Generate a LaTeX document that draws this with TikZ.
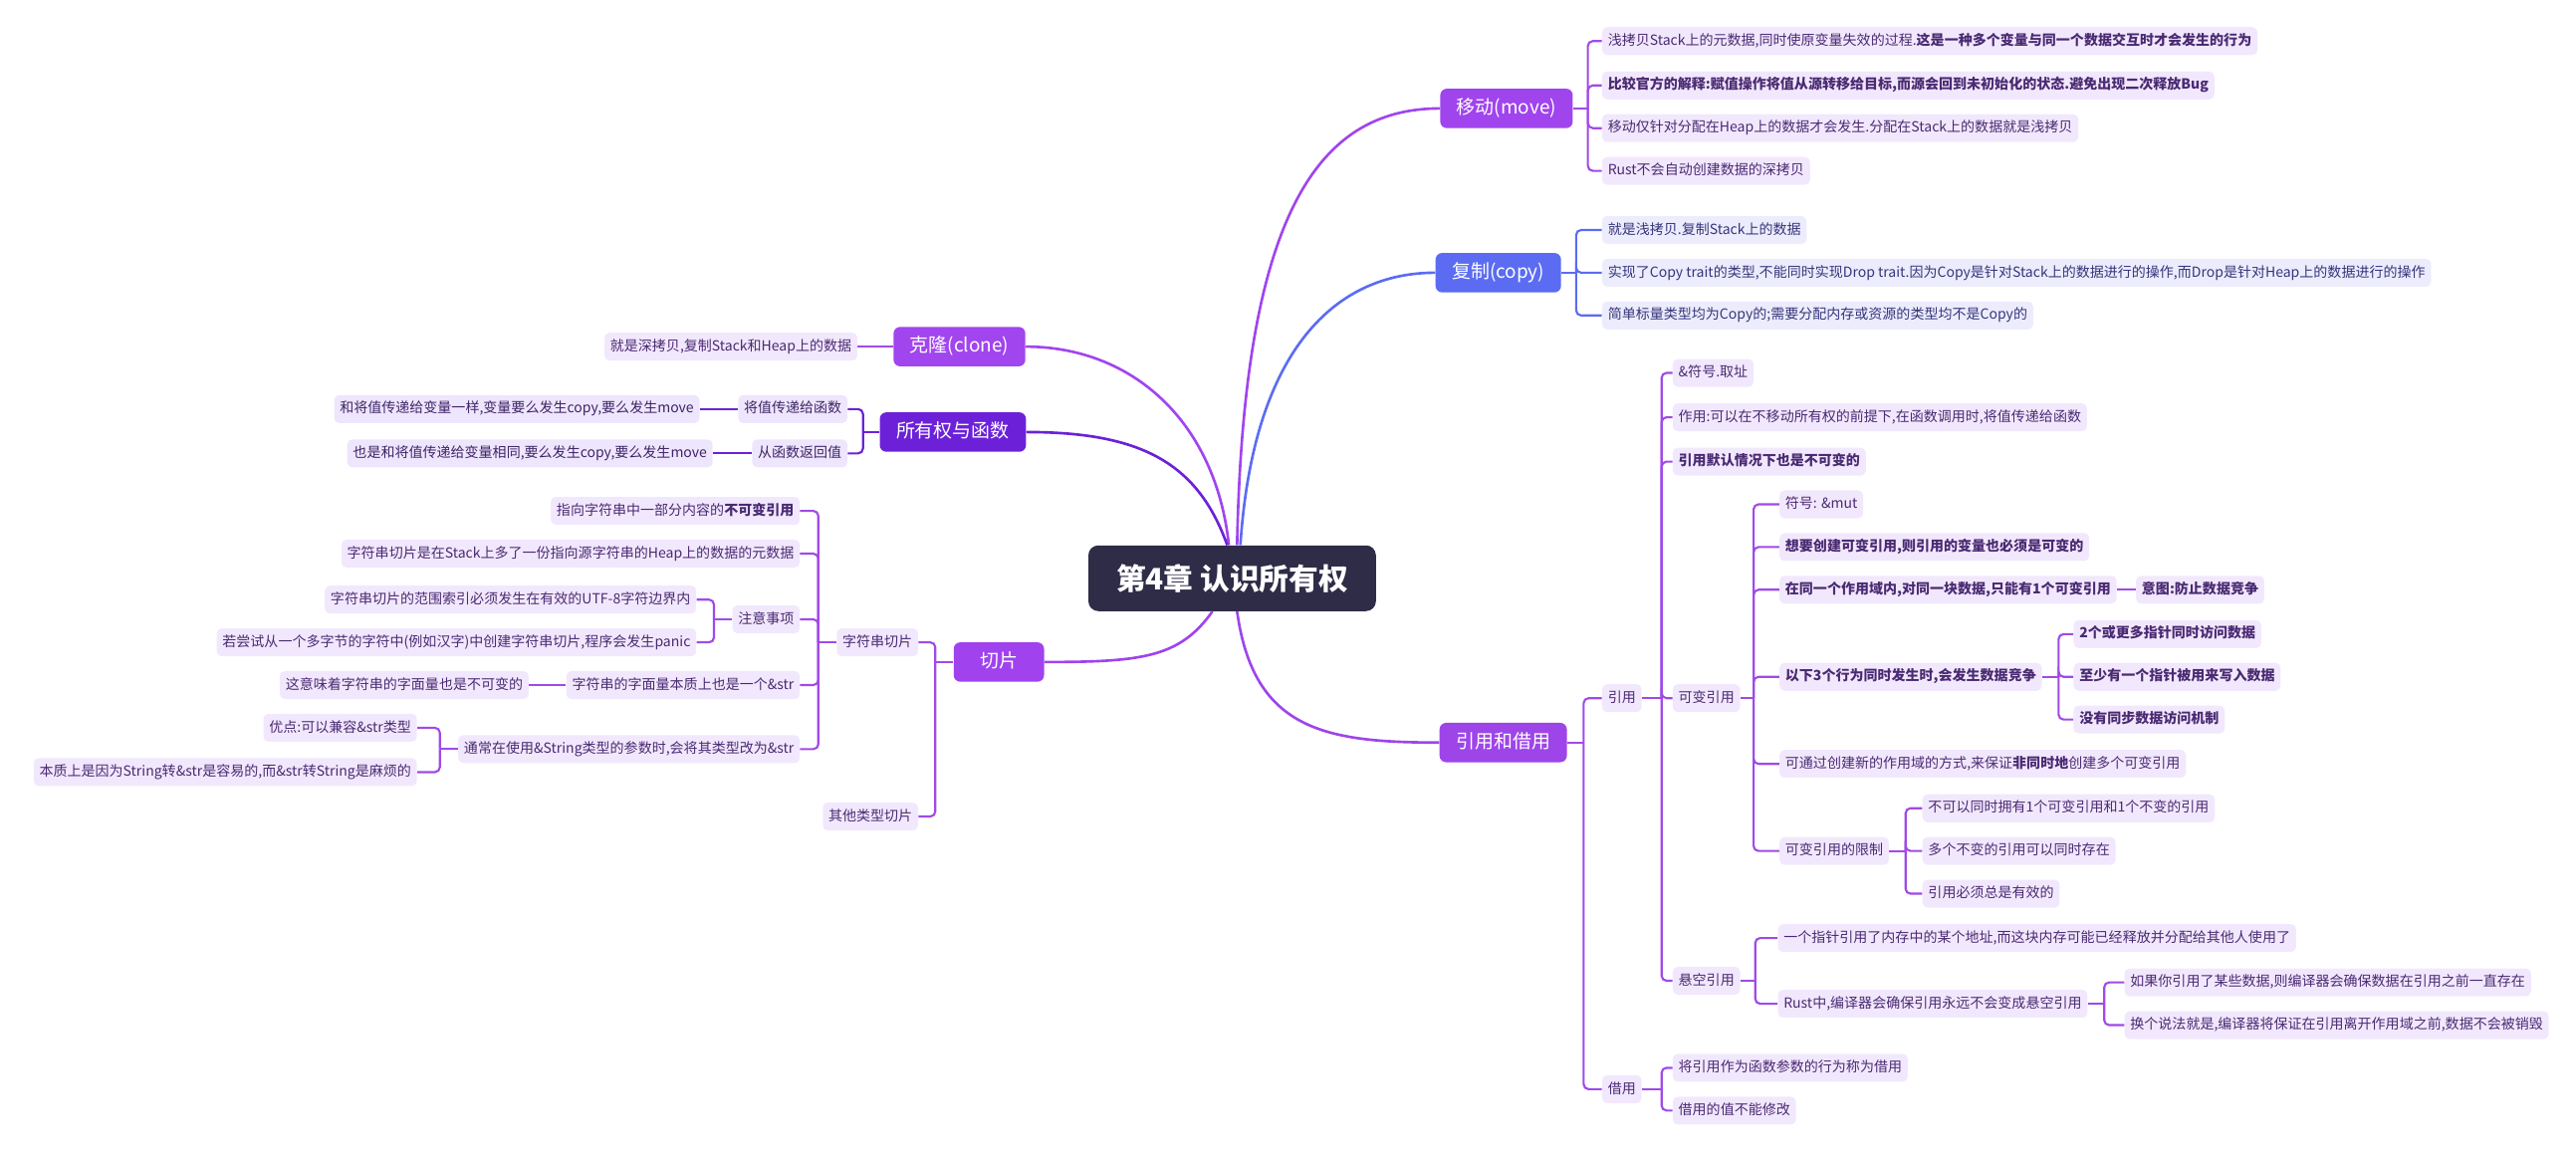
\documentclass[tikz,border=0pt]{standalone}
\usepackage{fontspec}
\setmainfont{Noto Sans CJK SC}
\usetikzlibrary{calc}
\definecolor{rootc}{HTML}{2F2C47}
\definecolor{mvc}{HTML}{A044EE}
\definecolor{cpc}{HTML}{5B6CF2}
\definecolor{rbc}{HTML}{9E45EA}
\definecolor{clc}{HTML}{A145EF}
\definecolor{owc}{HTML}{6C21D8}
\definecolor{slc}{HTML}{A043EE}
\definecolor{leaffill}{HTML}{F2E8FD}
\definecolor{leaftext}{HTML}{4A2A72}
\definecolor{cpfill}{HTML}{ECECFD}
\definecolor{cptext}{HTML}{36357A}
\definecolor{owfill}{HTML}{EEE6FC}
\definecolor{owtext}{HTML}{3E2366}
\definecolor{linkc}{HTML}{A04AE8}
\newcommand\fanR[4][]{%
  \draw[link,#1] (#2.east) -- ++(#3,0);
  \foreach \cn in {#4} {\draw[link,rounded corners=3pt,#1] ([xshift=#3]#2.east) |- (\cn.west);}%
}
\newcommand\fanL[4][]{%
  \draw[link,#1] (#2.west) -- ++(-#3,0);
  \foreach \cn in {#4} {\draw[link,rounded corners=3pt,#1] ([xshift=-#3]#2.west) |- (\cn.east);}%
}
\begin{document}
\begin{tikzpicture}[x=1pt,y=-1pt,
  leaf/.style={fill=leaffill, text=leaftext, rounded corners=3pt, inner xsep=3.5pt, inner ysep=0pt,
    minimum height=17pt, text height=6.6pt, text depth=1.6pt, font=\fontsize{8.5}{10}\selectfont},
  lr/.style={leaf, anchor=west},
  ll/.style={leaf, anchor=east},
  cpl/.style={lr, fill=cpfill, text=cptext},
  owl/.style={ll, fill=owfill, text=owtext},
  br/.style={rounded corners=4pt, text=white, minimum height=24pt, minimum width=55pt, inner xsep=10pt,
    inner ysep=0pt, text height=9pt, text depth=2.3pt, font=\fontsize{11.5}{13}\selectfont},
  rootnode/.style={fill=rootc, text=white, rounded corners=6pt, minimum width=175pt, minimum height=40pt,
    font=\fontsize{18}{20}\selectfont\bfseries},
  link/.style={line width=1.3pt, draw=linkc},
  curve/.style={line width=1.6pt}
]
\useasboundingbox (0,0) rectangle (1568,704);

% root
\node[rootnode] (root) at (750,352) {第4章 认识所有权};

% ---------- move ----------
\node[br, fill=mvc] (mv) at (917,66) {移动(move)};
\node[lr] (mv1) at (975,25) {浅拷贝Stack上的元数据,同时使原变量失效的过程.\textbf{这是一种多个变量与同一个数据交互时才会发生的行为}};
\node[lr] (mv2) at (975,52) {\textbf{比较官方的解释:赋值操作将值从源转移给目标,而源会回到未初始化的状态.避免出现二次释放Bug}};
\node[lr] (mv3) at (975,78) {移动仅针对分配在Heap上的数据才会发生.分配在Stack上的数据就是浅拷贝};
\node[lr] (mv4) at (975,104) {Rust不会自动创建数据的深拷贝};

% ---------- copy ----------
\node[br, fill=cpc] (cp) at (912,166) {复制(copy)};
\node[cpl] (cp1) at (975,140) {就是浅拷贝.复制Stack上的数据};
\node[cpl] (cp2) at (975,166) {实现了Copy trait的类型,不能同时实现Drop trait.因为Copy是针对Stack上的数据进行的操作,而Drop是针对Heap上的数据进行的操作};
\node[cpl] (cp3) at (975,192) {简单标量类型均为Copy的;需要分配内存或资源的类型均不是Copy的};

% ---------- reference & borrow ----------
\node[br, fill=rbc] (rb) at (915,452) {引用和借用};
\node[lr] (yy) at (975,425) {引用};
\node[lr] (jy) at (975,663) {借用};
\node[lr] (y1) at (1018,227) {\&符号.取址};
\node[lr] (y2) at (1018,254) {作用:可以在不移动所有权的前提下,在函数调用时,将值传递给函数};
\node[lr] (y3) at (1018,281) {\textbf{引用默认情况下也是不可变的}};
\node[lr] (kb) at (1018,425) {可变引用};
\node[lr] (xk) at (1018,597) {悬空引用};
\node[lr] (k1) at (1083,307) {符号: \&mut};
\node[lr] (k2) at (1083,333) {\textbf{想要创建可变引用,则引用的变量也必须是可变的}};
\node[lr] (k3) at (1083,359) {\textbf{在同一个作用域内,对同一块数据,只能有1个可变引用}};
\node[lr] (k3a) at (1300,359) {\textbf{意图:防止数据竞争}};
\node[lr] (k4) at (1083,412) {\textbf{以下3个行为同时发生时,会发生数据竞争}};
\node[lr] (k41) at (1262,386) {\textbf{2个或更多指针同时访问数据}};
\node[lr] (k42) at (1262,412) {\textbf{至少有一个指针被用来写入数据}};
\node[lr] (k43) at (1262,438) {\textbf{没有同步数据访问机制}};
\node[lr] (k5) at (1083,465) {可通过创建新的作用域的方式,来保证\textbf{非同时地}创建多个可变引用};
\node[lr] (k6) at (1083,518) {可变引用的限制};
\node[lr] (k61) at (1170,492) {不可以同时拥有1个可变引用和1个不变的引用};
\node[lr] (k62) at (1170,518) {多个不变的引用可以同时存在};
\node[lr] (k63) at (1170,544) {引用必须总是有效的};
\node[lr] (x1) at (1082,571) {一个指针引用了内存中的某个地址,而这块内存可能已经释放并分配给其他人使用了};
\node[lr] (x2) at (1082,611) {Rust中,编译器会确保引用永远不会变成悬空引用};
\node[lr] (x21) at (1293,598) {如果你引用了某些数据,则编译器会确保数据在引用之前一直存在};
\node[lr] (x22) at (1293,624) {换个说法就是,编译器将保证在引用离开作用域之前,数据不会被销毁};
\node[lr] (j1) at (1018,650) {将引用作为函数参数的行为称为借用};
\node[lr] (j2) at (1018,676) {借用的值不能修改};

% ---------- clone ----------
\node[br, fill=clc] (cl) at (584,211) {克隆(clone)};
\node[ll] (cl1) at (522,211) {就是深拷贝,复制Stack和Heap上的数据};

% ---------- ownership & functions ----------
\node[br, fill=owc] (ow) at (580,263) {所有权与函数};
\node[owl] (ow1) at (516,249) {将值传递给函数};
\node[owl] (ow1a) at (426,249) {和将值传递给变量一样,变量要么发生copy,要么发生move};
\node[owl] (ow2) at (516,276) {从函数返回值};
\node[owl] (ow2a) at (434,276) {也是和将值传递给变量相同,要么发生copy,要么发生move};

% ---------- slices ----------
\node[br, fill=slc] (sl) at (608,403) {切片};
\node[ll] (s1) at (559,391) {字符串切片};
\node[ll] (s2) at (559,497) {其他类型切片};
\node[ll] (a1) at (487,311) {指向字符串中一部分内容的\textbf{不可变引用}};
\node[ll] (a2) at (487,337) {字符串切片是在Stack上多了一份指向源字符串的Heap上的数据的元数据};
\node[ll] (a3) at (487,377) {注意事项};
\node[ll] (a31) at (424,365) {字符串切片的范围索引必须发生在有效的UTF-8字符边界内};
\node[ll] (a32) at (424,391) {若尝试从一个多字节的字符中(例如汉字)中创建字符串切片,程序会发生panic};
\node[ll] (a4) at (487,417) {字符串的字面量本质上也是一个\&str};
\node[ll] (a4a) at (322,417) {这意味着字符串的字面量也是不可变的};
\node[ll] (a5) at (487,456) {通常在使用\&String类型的参数时,会将其类型改为\&str};
\node[ll] (a51) at (254,443) {优点:可以兼容\&str类型};
\node[ll] (a52) at (254,470) {本质上是因为String转\&str是容易的,而\&str转String是麻烦的};

% ---------- main curves ----------
\draw[curve, draw=mvc] ([xshift=3pt]root.north) .. controls +(4,-200) and +(-75,0) .. (mv.west);
\draw[curve, draw=cpc] ([xshift=5pt]root.north) .. controls +(8,-120) and +(-60,0) .. (cp.west);
\draw[curve, draw=clc] ([xshift=-2pt]root.north) .. controls +(-8,-75) and +(65,0) .. (cl.east);
\draw[curve, draw=owc] ([xshift=-3pt]root.north) .. controls +(-18,-50) and +(70,0) .. (ow.east);
\draw[curve, draw=slc] ([xshift=-12pt]root.south) .. controls +(-20,28) and +(60,0) .. (sl.east);
\draw[curve, draw=rbc] ([xshift=3pt]root.south) .. controls +(10,72) and +(-70,0) .. (rb.west);

% ---------- brackets ----------
\fanR{mv}{9pt}{mv1,mv2,mv3,mv4}
\fanR[draw=cpc]{cp}{9pt}{cp1,cp2,cp3}
\fanR{rb}{10pt}{yy,jy}
\fanR{yy}{12pt}{y1,y2,y3,kb,xk}
\fanR{kb}{8pt}{k1,k2,k3,k4,k5,k6}
\draw[link] (k3.east) -- (k3a.west);
\fanR{k4}{10pt}{k41,k42,k43}
\fanR{k6}{10pt}{k61,k62,k63}
\fanR{xk}{9pt}{x1,x2}
\fanR{x2}{10pt}{x21,x22}
\fanR{jy}{12pt}{j1,j2}

\draw[link] (cl.west) -- (cl1.east);
\fanL[draw=owc]{ow}{10pt}{ow1,ow2}
\draw[link, draw=owc] (ow1.west) -- (ow1a.east);
\draw[link, draw=owc] (ow2.west) -- (ow2a.east);
\fanL{sl}{11pt}{s1,s2}
\fanL{s1}{11pt}{a1,a2,a3,a4,a5}
\fanL{a3}{11pt}{a31,a32}
\draw[link] (a4.west) -- (a4a.east);
\fanL{a5}{11pt}{a51,a52}
\end{tikzpicture}
\end{document}
